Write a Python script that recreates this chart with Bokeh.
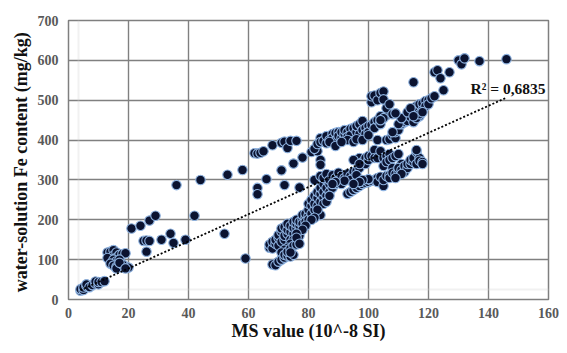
import numpy as np
from bokeh.plotting import figure
from bokeh.models import Range1d, Label, FixedTicker, ColumnDataSource, BoxAnnotation
from bokeh.embed import file_html
from bokeh.resources import INLINE

# ---- data (MS value, Fe content) ----
low_x = [4, 4, 5, 5, 6, 6, 7, 8, 9, 9, 10, 10, 11, 12]
low_y = [22, 26, 24, 30, 33, 38, 31, 36, 40, 45, 38, 44, 44, 46]

b_x = [13, 14, 14, 15, 15, 16, 16, 17, 18, 19, 13, 15, 16, 17, 14, 15, 16, 17, 18, 19, 20, 16, 18, 17, 19]
b_y = [118, 113, 120, 124, 110, 118, 105, 112, 114, 116, 104, 100, 96, 100, 90, 85, 82, 85, 80, 83, 80, 78, 88, 92, 78]

c_x = [21, 24, 27, 29, 25, 26, 27, 26, 31, 34, 35, 39, 36, 42, 44, 52, 53, 58, 59]
c_y = [178, 185, 198, 210, 147, 148, 147, 120, 150, 165, 142, 150, 287, 210, 300, 165, 313, 325, 103]

d_x = [62, 63, 64, 65, 63, 63, 66, 68, 71, 72, 73, 74, 76, 71, 72, 75, 77, 78, 81, 83, 84, 84]
d_y = [367, 366, 368, 372, 280, 264, 302, 387, 393, 396, 380, 398, 398, 324, 287, 341, 281, 356, 370, 372, 350, 338]

e_x = [67, 67, 68, 68, 69, 69, 70, 70, 70, 71, 71, 71, 72, 72, 72, 73, 73, 73, 74, 74, 74, 75, 75, 75,
       76, 76, 76, 77, 77, 77, 78, 78, 78, 79, 79, 79, 80, 80, 80, 80, 81, 81, 81, 82, 82, 82, 83, 83, 83,
       84, 84, 84, 84, 85, 85, 85, 86, 86, 86, 87, 87, 88, 88, 89, 89, 90, 85, 86, 87, 83, 82, 81, 79, 78,
       76, 75, 74, 73, 72, 71,
       68, 69, 70, 71, 72, 72, 73, 74, 75, 73, 74, 75, 76, 76, 77, 74]
e_y = [130, 138, 128, 145, 140, 150, 135, 155, 162, 145, 170, 178, 150, 160, 182, 165, 175, 190, 170, 185, 150, 165, 180, 195,
       178, 190, 200, 185, 195, 160, 200, 190, 212, 205, 215, 195, 210, 225, 200, 240, 215, 235, 250, 225, 240, 260, 235, 255, 270,
       245, 265, 280, 212, 255, 270, 290, 260, 280, 300, 270, 290, 280, 300, 290, 310, 300, 240, 245, 260, 225, 205, 200, 185, 175,
       165, 150, 140, 130, 125, 118,
       88, 86, 95, 100, 105, 112, 110, 108, 112, 120, 128, 135, 138, 155, 140, 118]

f_x = [82, 83, 84, 84, 85, 86, 86, 87, 88, 88, 89, 89, 90, 90, 91, 91, 92, 92, 93, 93, 94, 94, 95, 95,
       96, 96, 97, 97, 98, 98, 99, 99, 100, 100, 101, 102, 102, 103, 104, 104, 105, 106, 93, 95, 96, 87,
       89, 91, 98, 100]
f_y = [378, 390, 405, 395, 398, 392, 410, 400, 415, 405, 418, 398, 420, 410, 405, 420, 415, 425, 420, 408, 428, 412, 430, 398,
       420, 435, 415, 440, 448, 425, 430, 415, 435, 420, 438, 445, 430, 450, 448, 440, 458, 462, 400, 395, 402, 395,
       385, 395, 400, 412]

g_x = [82, 84, 85, 86, 87, 88, 89, 90, 90, 91, 91, 92, 93, 93, 94, 95, 95, 96, 97, 97, 98, 99, 99, 100,
       100, 101, 102, 102, 103, 103, 104, 105, 105, 106, 106, 107, 107, 108, 109, 110, 111, 112, 108, 110,
       95, 97, 94, 96, 92, 89, 88]
g_y = [300, 310, 305, 315, 300, 312, 305, 318, 295, 310, 290, 305, 300, 315, 310, 320, 305, 322, 330, 355, 345, 340, 355, 350,
       360, 360, 375, 355, 400, 355, 372, 355, 335, 360, 345, 365, 350, 355, 360, 365, 340, 335, 330, 330,
       350, 340, 300, 312, 298, 295, 290]

h_x = [93, 94, 95, 96, 96, 97, 98, 99, 100, 101, 102, 103, 103, 104, 105, 105, 106, 107, 107, 108, 109, 110,
       110, 111, 112, 112, 113, 113, 114, 114, 115, 115, 116, 116, 117, 117, 118, 118, 116, 111, 109, 100,
       98, 97, 95]
h_y = [265, 270, 275, 280, 290, 285, 290, 293, 295, 298, 300, 305, 295, 308, 285, 300, 310, 312, 305, 318, 315, 322,
       330, 325, 320, 335, 330, 340, 340, 350, 345, 355, 370, 340, 355, 348, 345, 340, 375, 315, 305, 302,
       300, 295, 290]

k_x = [101, 101, 102, 103, 104, 105, 105, 106, 107, 108, 104, 105, 104, 106, 107, 108, 109, 109, 110, 111,
       112, 112, 113, 113, 114, 114, 115, 115, 115, 116, 116, 117, 117, 118, 118, 119, 119, 120, 120, 121,
       122, 122, 123, 124, 125, 127, 130, 131, 132, 137, 146, 108, 110, 111, 113, 114, 116, 117, 118, 115, 109]
k_y = [495, 510, 512, 500, 518, 522, 502, 480, 490, 465, 460, 455, 450, 400, 402, 412, 405, 420, 425, 440,
       445, 455, 460, 448, 470, 458, 545, 445, 478, 485, 470, 490, 460, 492, 475, 498, 485, 500, 490, 505,
       510, 570, 575, 555, 525, 570, 600, 590, 605, 598, 603, 420, 440, 455, 470, 480, 455, 465, 470, 460, 467]

# linear trendline as shown in the reference
trend_slope = 3.4
trend_intercept = 10.0
r2_text = "R² = 0,6835"

xs = np.array(low_x + b_x + c_x + d_x + e_x + f_x + g_x + h_x + k_x, dtype=float)
ys = np.array(low_y + b_y + c_y + d_y + e_y + f_y + g_y + h_y + k_y, dtype=float)

tx = np.array([xs.min(), xs.max()])
ty = trend_slope * tx + trend_intercept

FONT = "Liberation Serif"

p = figure(width=559, height=345, output_backend="svg", toolbar_location=None,
           x_range=Range1d(0, 160), y_range=Range1d(0, 700),
           min_border_left=68, min_border_right=11, min_border_top=20, min_border_bottom=46)

p.outline_line_color = "#7f7f7f"
p.outline_line_width = 1.5

for ax in (p.xaxis[0], p.yaxis[0]):
    ax.axis_line_color = None
    ax.major_tick_line_color = None
    ax.minor_tick_line_color = None
    ax.major_tick_out = 0
    ax.major_tick_in = 0
    ax.minor_tick_out = 0
    ax.minor_tick_in = 0
    ax.major_label_text_font = FONT
    ax.major_label_text_font_style = "bold"
    ax.major_label_text_font_size = "14px"
    ax.major_label_text_color = "#595959"
    ax.axis_label_text_font = FONT
    ax.axis_label_text_font_style = "bold"
    ax.axis_label_text_font_size = "18px"
    ax.axis_label_text_color = "#111111"

p.xaxis.ticker = FixedTicker(ticks=list(range(0, 161, 20)))
p.yaxis.ticker = FixedTicker(ticks=list(range(0, 701, 100)))
p.xaxis.axis_label = "MS value (10^-8 SI)"
p.yaxis.axis_label = "water-solution  Fe content (mg/kg)"
p.xaxis.major_label_standoff = 8
p.yaxis.major_label_standoff = 10
p.xaxis.axis_label_standoff = 0
p.yaxis.axis_label_standoff = 4

p.grid.grid_line_color = "#808080"
p.grid.grid_line_width = 1.4
p.background_fill_color = "white"
p.border_fill_color = "white"

# light outer chart border (top and left edges visible in the reference)
p.add_layout(BoxAnnotation(left=10, right=3000, top=10, bottom=3000,
                           left_units="screen", right_units="screen",
                           top_units="screen", bottom_units="screen",
                           fill_alpha=0, line_color="#d2d2d2", line_width=2, level="underlay"))

src = ColumnDataSource(dict(x=xs, y=ys))
p.scatter("x", "y", source=src, size=9.5, fill_color="#0b1330", line_color="#8fb3e0", line_width=1.1)

p.line(tx, ty, line_color="black", line_dash="2 2", line_width=1.8)

p.add_layout(Label(x=134.0, y=530, text=r2_text, text_font=FONT, text_font_style="bold",
                   text_font_size="15.5px", text_color="#111111", text_baseline="middle", text_align="left"))

open("out.html", "w").write(file_html(p, INLINE))
